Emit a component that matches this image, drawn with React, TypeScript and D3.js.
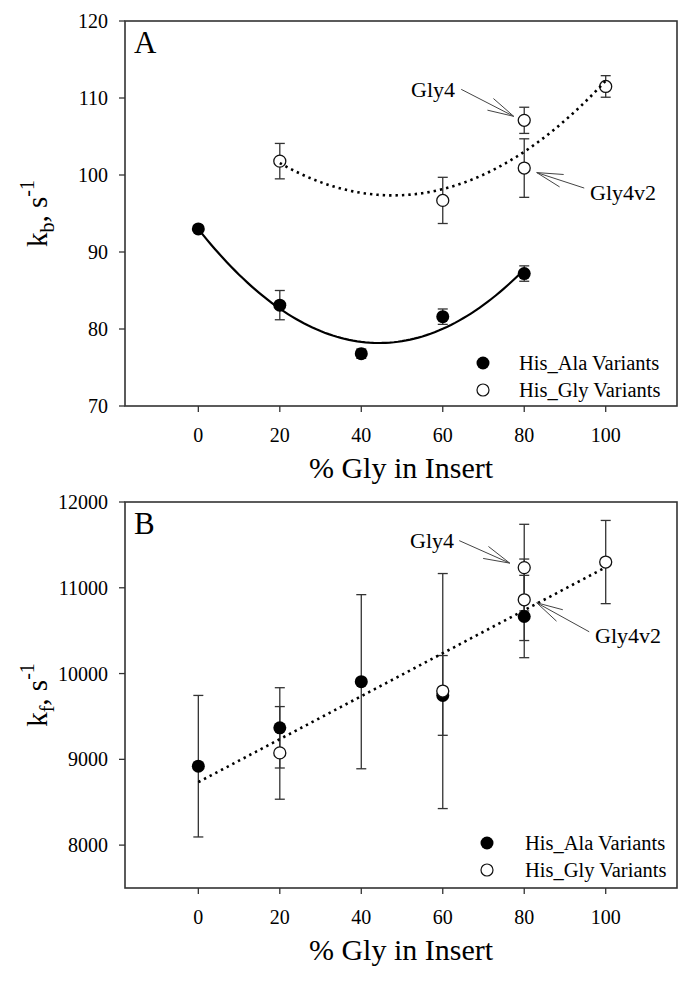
import React from "react";
import * as d3 from "d3";

// ---------- data ----------
const xTicks = [0, 20, 40, 60, 80, 100];
const alaX = [0, 20, 40, 60, 80];
const glyX = [20, 60, 80, 80, 100];

// Panel A: kb
const kbAla = [93.0, 83.1, 76.8, 81.6, 87.2];
const kbAlaErr = [0.3, 1.9, 0.6, 1.0, 1.0];
const kbGly = [101.8, 96.7, 107.1, 100.9, 111.5];
const kbGlyErr = [2.3, 3.0, 1.7, 3.8, 1.4];
const kbTicks = [70, 80, 90, 100, 110, 120];

// Panel B: kf
const kfAla = [8920, 9367, 9905, 9745, 10665];
const kfAlaErr = [825, 468, 1015, 465, 480];
const kfGly = [9075, 9796, 11235, 10860, 11300];
const kfGlyErr = [540, 1370, 505, 475, 485];
const kfTicks = [8000, 9000, 10000, 11000, 12000];

const legendLabels = ["His_Ala Variants", "His_Gly Variants"];

// ---------- fitting helpers ----------
function quadFit(xs: number[], ys: number[]) {
  const n = xs.length;
  let s0 = n, s1 = 0, s2 = 0, s3 = 0, s4 = 0, t0 = 0, t1 = 0, t2 = 0;
  for (let i = 0; i < n; i++) {
    const x = xs[i], y = ys[i];
    s1 += x; s2 += x * x; s3 += x ** 3; s4 += x ** 4;
    t0 += y; t1 += x * y; t2 += x * x * y;
  }
  const M = [
    [s0, s1, s2, t0],
    [s1, s2, s3, t1],
    [s2, s3, s4, t2],
  ];
  for (let c = 0; c < 3; c++) {
    for (let r = c + 1; r < 3; r++) {
      const f = M[r][c] / M[c][c];
      for (let k = c; k < 4; k++) M[r][k] -= f * M[c][k];
    }
  }
  const coef = [0, 0, 0];
  for (let r = 2; r >= 0; r--) {
    let s = M[r][3];
    for (let k = r + 1; k < 3; k++) s -= M[r][k] * coef[k];
    coef[r] = s / M[r][r];
  }
  return (x: number) => coef[0] + coef[1] * x + coef[2] * x * x;
}

function linFit(xs: number[], ys: number[]) {
  const mx = d3.mean(xs)!, my = d3.mean(ys)!;
  let sxy = 0, sxx = 0;
  xs.forEach((x, i) => { sxy += (x - mx) * (ys[i] - my); sxx += (x - mx) ** 2; });
  const b = sxy / sxx, a = my - b * mx;
  return (x: number) => a + b * x;
}

// ---------- layout ----------
const W = 692, H = 981;
const FONT = "'Liberation Serif', 'Times New Roman', serif";
const left = 125, right = 677;
const xDomain: [number, number] = [-18, 117.5];
const axisColor = "#333";

type Ann = { label: string; px: number; py: number; tx: number; ty: number; sx: number; sy: number; anchor: "start" | "end" };

type PanelProps = {
  top: number; bottom: number; yDomain: [number, number]; yTicks: number[];
  letter: string; sub: string;
  ala: number[]; alaErr: number[]; gly: number[]; glyErr: number[];
  fits: { f: (x: number) => number; x0: number; x1: number; dotted: boolean }[];
  anns: { label: string; idx: number; tdx: number; tdy: number; sdx: number; sdy: number; textX: number; textY: number; anchor: "start" | "end" }[];
  legendX: number; legendTextX: number; legendY: number;
};

function Arrow({ sx, sy, tx, ty }: { sx: number; sy: number; tx: number; ty: number }) {
  const ang = Math.atan2(ty - sy, tx - sx);
  const len = 27, half = (14 * Math.PI) / 180;
  const b1 = [tx - len * Math.cos(ang - half), ty - len * Math.sin(ang - half)];
  const b2 = [tx - len * Math.cos(ang + half), ty - len * Math.sin(ang + half)];
  return (
    <g stroke="#444" strokeWidth={1} fill="none">
      <line x1={sx} y1={sy} x2={tx} y2={ty} />
      <line x1={b1[0]} y1={b1[1]} x2={tx} y2={ty} />
      <line x1={b2[0]} y1={b2[1]} x2={tx} y2={ty} />
    </g>
  );
}

function Panel(p: PanelProps) {
  const x = d3.scaleLinear().domain(xDomain).range([left, right]);
  const y = d3.scaleLinear().domain(p.yDomain).range([p.bottom, p.top]);
  const line = d3.line<number>();
  const cap = 5;
  const errBars = (xs: number[], vs: number[], es: number[], key: string) =>
    xs.map((xv, i) => {
      const cx = x(xv), yt = y(vs[i] + es[i]), yb = y(vs[i] - es[i]);
      return (
        <g key={key + i} stroke={axisColor} strokeWidth={1.3}>
          <line x1={cx} x2={cx} y1={yt} y2={yb} />
          <line x1={cx - cap} x2={cx + cap} y1={yt} y2={yt} />
          <line x1={cx - cap} x2={cx + cap} y1={yb} y2={yb} />
        </g>
      );
    });
  const cy = (p.top + p.bottom) / 2;
  return (
    <g fontFamily={FONT}>
      {/* frame */}
      <rect x={left} y={p.top} width={right - left} height={p.bottom - p.top} fill="none" stroke={axisColor} strokeWidth={1.6} />
      {/* y ticks */}
      {p.yTicks.map((t) => (
        <g key={"yt" + t}>
          <line x1={left - 6} x2={left} y1={y(t)} y2={y(t)} stroke={axisColor} strokeWidth={1.3} />
          <text x={108} y={y(t) + 7} fontSize={20} textAnchor="end">{t}</text>
        </g>
      ))}
      {/* x ticks */}
      {xTicks.map((t) => (
        <g key={"xt" + t}>
          <line x1={x(t)} x2={x(t)} y1={p.bottom} y2={p.bottom + 6} stroke={axisColor} strokeWidth={1.3} />
          <text x={x(t)} y={p.bottom + 36} fontSize={20} textAnchor="middle">{t}</text>
        </g>
      ))}
      <text x={(left + right) / 2} y={p.bottom + 72} fontSize={30} textAnchor="middle">% Gly in Insert</text>
      <text transform={`translate(47,${cy}) rotate(-90)`} fontSize={29} textAnchor="middle">
        k<tspan fontSize={20} dy={7}>{p.sub}</tspan>
        <tspan dy={-7}>, s</tspan>
        <tspan fontSize={20} dy={-13}>-1</tspan>
      </text>
      <text x={134} y={p.top + 32} fontSize={31}>{p.letter}</text>

      {errBars(alaX, p.ala, p.alaErr, "ea")}
      {errBars(glyX, p.gly, p.glyErr, "eg")}
      {alaX.map((xv, i) => (
        <circle key={"a" + i} cx={x(xv)} cy={y(p.ala[i])} r={6.5} fill="#000" />
      ))}
      {glyX.map((xv, i) => (
        <circle key={"g" + i} cx={x(xv)} cy={y(p.gly[i])} r={6} fill="#fff" stroke="#111" strokeWidth={1.3} />
      ))}
      {p.fits.map((ft, k) => {
        const xs = d3.range(ft.x0, ft.x1 + 0.001, 1);
        const pts = xs.map((v) => [x(v), y(ft.f(v))] as [number, number]);
        return (
          <path key={"f" + k} d={d3.line()(pts)!} fill="none" stroke="#000"
            strokeWidth={ft.dotted ? 2.6 : 2.2}
            strokeDasharray={ft.dotted ? "2.4 4" : undefined} />
        );
      })}
      {p.anns.map((a, k) => {
        const px = x(glyX[a.idx]), py = y(p.gly[a.idx]);
        return (
          <g key={"an" + k}>
            <Arrow sx={px + a.sdx} sy={py + a.sdy} tx={px + a.tdx} ty={py + a.tdy} />
            <text x={a.textX} y={a.textY} fontSize={22} textAnchor={a.anchor}>{a.label}</text>
          </g>
        );
      })}
      {/* legend */}
      <circle cx={p.legendX} cy={p.legendY} r={6.5} fill="#000" />
      <text x={p.legendTextX} y={p.legendY + 7} fontSize={20.5}>{legendLabels[0]}</text>
      <circle cx={p.legendX} cy={p.legendY + 27} r={6} fill="#fff" stroke="#111" strokeWidth={1.2} />
      <text x={p.legendTextX} y={p.legendY + 34} fontSize={20.5}>{legendLabels[1]}</text>
    </g>
  );
}

export default function App() {
  const fitAla = quadFit(alaX, kbAla);
  const fitGly = quadFit(glyX, kbGly);
  const fitKf = linFit([...alaX, ...glyX], [...kfAla, ...kfGly]);
  return (
    <svg width={W} height={H} style={{ position: "absolute", left: 0, top: 0, background: "#fff" }}>
      <rect width={W} height={H} fill="#fff" />
      <Panel
        top={21} bottom={406} yDomain={[70, 120]} yTicks={kbTicks} letter="A" sub="b"
        ala={kbAla} alaErr={kbAlaErr} gly={kbGly} glyErr={kbGlyErr}
        fits={[
          { f: fitAla, x0: 0, x1: 80, dotted: false },
          { f: fitGly, x0: 20, x1: 100, dotted: true },
        ]}
        anns={[
          { label: "Gly4", idx: 2, tdx: -10.5, tdy: -4, sdx: -63, sdy: -31, textX: 455, textY: 97, anchor: "end" },
          { label: "Gly4v2", idx: 3, tdx: 12.5, tdy: 4.5, sdx: 60, sdy: 20, textX: 590, textY: 200, anchor: "start" },
        ]}
        legendX={483} legendTextX={519} legendY={363}
      />
      <Panel
        top={502} bottom={888} yDomain={[7500, 12000]} yTicks={kfTicks} letter="B" sub="f"
        ala={kfAla} alaErr={kfAlaErr} gly={kfGly} glyErr={kfGlyErr}
        fits={[{ f: fitKf, x0: 0, x1: 100, dotted: true }]}
        anns={[
          { label: "Gly4", idx: 2, tdx: -14.5, tdy: -4.5, sdx: -65, sdy: -27, textX: 454, textY: 548, anchor: "end" },
          { label: "Gly4v2", idx: 3, tdx: 12.5, tdy: 3, sdx: 65, sdy: 32, textX: 595, textY: 643, anchor: "start" },
        ]}
        legendX={487} legendTextX={525} legendY={843}
      />
    </svg>
  );
}
